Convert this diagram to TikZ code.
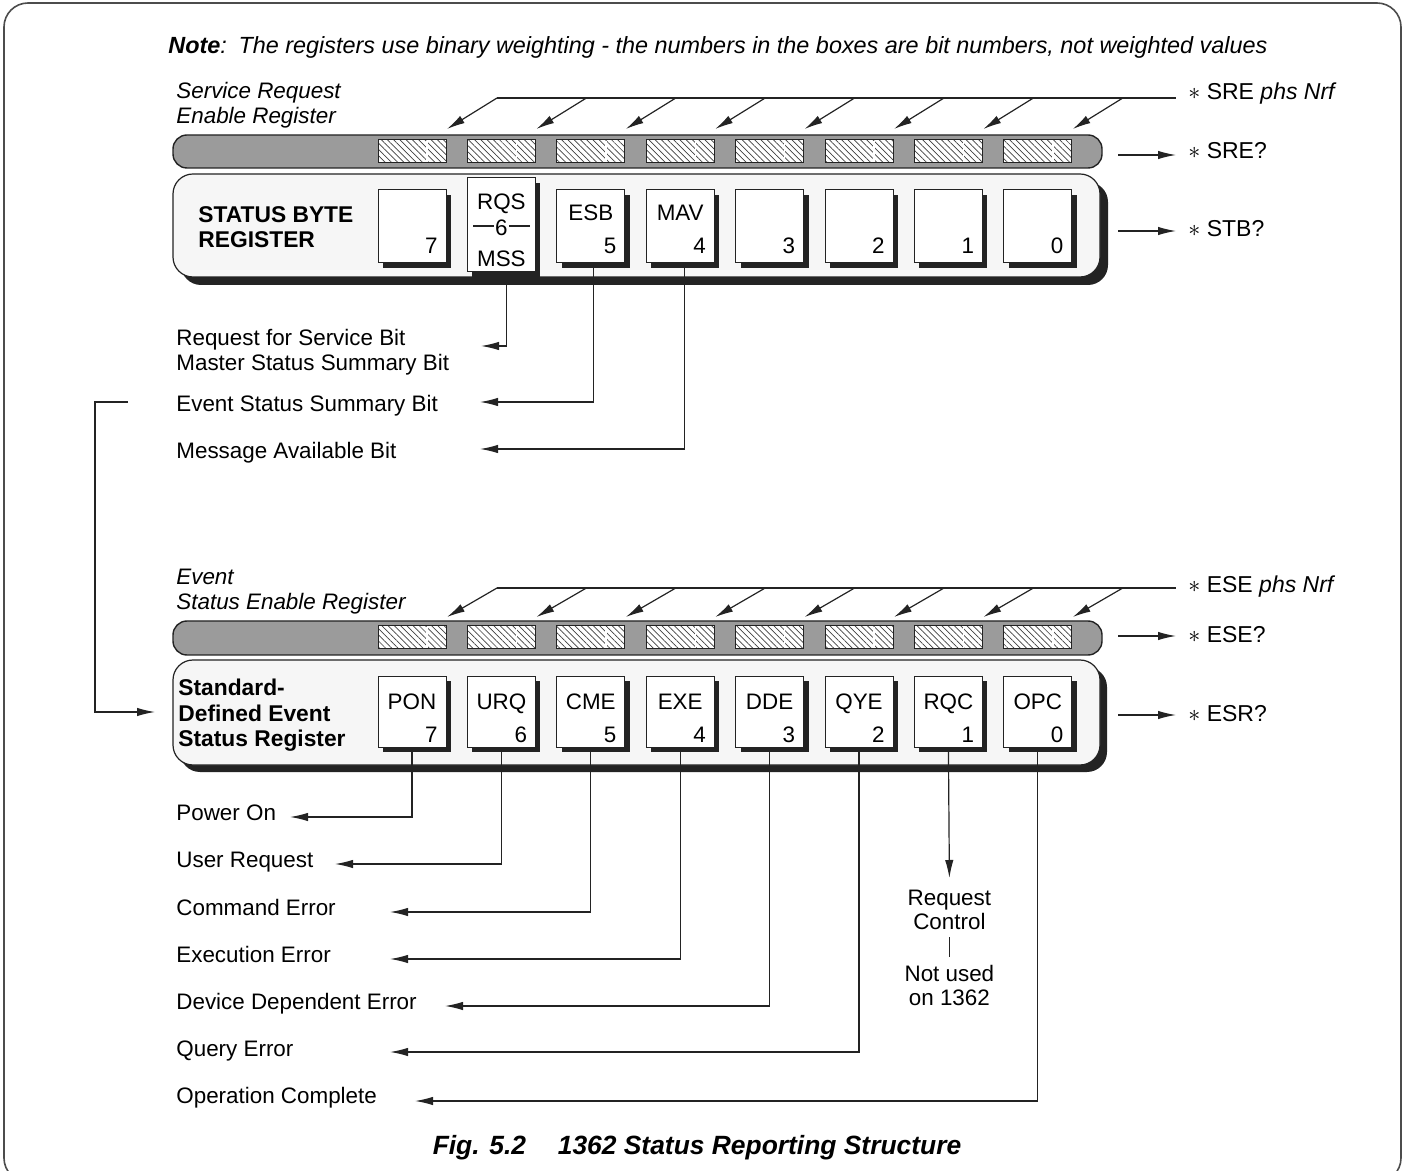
\documentclass[tikz,border=0pt]{standalone}
\usepackage{fontspec}
\setmainfont{Liberation Sans}
\usetikzlibrary{arrows.meta,patterns.meta,shadows,calc}
\definecolor{bargray}{RGB}{155,155,155}
\definecolor{boxgray}{RGB}{246,246,246}
\definecolor{ink}{RGB}{35,35,35}
\tikzset{
  frame/.style={draw=black!70, line width=0.8pt, rounded corners=12pt},
  regbar/.style={fill=bargray, draw=ink, line width=0.7pt, rounded corners=7pt},
  regbox/.style={fill=boxgray, draw=ink, line width=0.6pt, rounded corners=10pt},
  regshadow/.style={fill=ink, rounded corners=10pt},
  bitbox/.style={draw=ink, fill=white, line width=0.5pt, minimum width=34pt, inner sep=0pt,
    general shadow={fill=ink, shadow xshift=2.5pt, shadow yshift=-2.5pt}},
  hatchbox/.style={draw=ink, line width=0.5pt, preaction={fill=white},
    pattern={Lines[angle=-45,distance=2.2pt,line width=0.35pt]}, pattern color=black!75},
  conn/.style={draw=ink, line width=0.6pt},
  arr/.style={conn, -{Latex[length=9pt,width=4.2pt]}},
  txt/.style={anchor=base west, inner sep=0pt},
  ctxt/.style={anchor=base, inner sep=0pt},
  numtxt/.style={anchor=base east, inner sep=0pt},
  boldlbl/.style={txt, font=\fontsize{11.4}{13}\selectfont\bfseries},
  rlbl/.style={txt, font=\fontsize{11.5}{13}\selectfont},
}
\begin{document}
\begin{tikzpicture}[x=0.5pt,y=-0.5pt, font=\fontsize{11.2}{13}\selectfont]
\useasboundingbox (0,0) rectangle (1404,1171);
% outer frame
\draw[frame] (4,3) rectangle (1401,1182);

% note
\node[txt, font=\fontsize{11.7}{13}\selectfont] (note) at (168,54) {\textbf{\textit{Note}}\textit{:\enspace The registers use binary weighting - the numbers in the boxes are bit numbers, not weighted values}};

% ---------------- Service request enable register ----------------
\node[txt] (srel1) at (176,99) {\textit{Service Request}};
\node[txt] (srel2) at (176,124) {\textit{Enable Register}};
\draw[regbar] (173,135) rectangle (1102,168);
\coordinate (sreTopL) at (497,98);
\coordinate (sreTopR) at (1176,98);
\draw[conn] (sreTopL) -- (sreTopR);
\foreach \i in {0,...,7}{
  \draw[hatchbox] (378+89.4*\i,140) rectangle (446+89.4*\i,163);
  \draw[white, line width=0.7pt] (427+89.4*\i,141) -- (427+89.4*\i,162);
  \draw[arr] (497+89.4*\i,98) -- (447+89.4*\i,129);
}
\node[rlbl] (srecmd) at (1188,100) {$\ast$ SRE \textit{phs Nrf}};
\node[rlbl] (srequ) at (1188,159) {$\ast$ SRE?};
\coordinate (sreA) at (1118,155); \coordinate (sreB) at (1176,155);
\draw[arr] (sreA) -- (sreB);

% ---------------- Status byte register ----------------
\fill[regshadow] (181,182) rectangle (1108,285);
\draw[regbox] (173,174) rectangle (1100,277);
\node[boldlbl] (sbl1) at (198,223) {STATUS BYTE};
\node[boldlbl] (sbl2) at (198,248) {REGISTER};
\foreach \i/\b/\lab in {0/7/,2/5/ESB,3/4/MAV,4/3/,5/2/,6/1/,7/0/}{
  \node[bitbox, minimum height=36.5pt] (s\b) at (412+89.4*\i,226.5) {};
  \node[numtxt] (s\b n) at (438+89.4*\i,254) {\b};
  \node[ctxt] (s\b l) at (412+89.4*\i,221) {\lab};
}
\node[bitbox, minimum height=47pt] (s6) at (501.4,225) {};
\node[ctxt] (s6l) at (501.4,210) {RQS};
\node[ctxt] (s6n) at (501.4,236) {6};
\node[ctxt] (s6b) at (501.4,267) {MSS};
\draw[conn] (473,226) -- (494,226);
\draw[conn] (509,226) -- (530,226);
\node[rlbl] (stbq) at (1188,237) {$\ast$ STB?};
\coordinate (stbA) at (1118,231); \coordinate (stbB) at (1176,231);
\draw[arr] (stbA) -- (stbB);

% status byte bit descriptions
\node[txt] (rqs1) at (176,346) {Request for Service Bit};
\node[txt] (rqs2) at (176,371) {Master Status Summary Bit};
\node[txt] (esbt) at (176,412) {Event Status Summary Bit};
\node[txt] (mavt) at (176,459) {Message Available Bit};
\coordinate (t6) at (481,346);
\coordinate (t5) at (480,402);
\coordinate (t4) at (480,449);
\draw[arr] ([xshift=2.5pt]s6.south) |- (t6);
\draw[arr] ([xshift=1.5pt]s5.south) |- (t5);
\draw[arr] ([xshift=2pt]s4.south) |- (t4);

% link from ESB to event status register
\coordinate (esbL) at (128,402);
\coordinate (esrL) at (155,712);
\draw[arr] (esbL) -- (95,402) |- (esrL);

% ---------------- Event status enable register ----------------
\node[txt] (esel1) at (176,585) {\textit{Event}};
\node[txt] (esel2) at (176,610) {\textit{Status Enable Register}};
\draw[regbar] (173,621) rectangle (1102,655);
\coordinate (eseTopL) at (497,588);
\coordinate (eseTopR) at (1176,588);
\draw[conn] (eseTopL) -- (eseTopR);
\foreach \i in {0,...,7}{
  \draw[hatchbox] (378+89.4*\i,626) rectangle (446+89.4*\i,649);
  \draw[white, line width=0.7pt] (427+89.4*\i,627) -- (427+89.4*\i,648);
  \draw[arr] (497+89.4*\i,588) -- (447+89.4*\i,617);
}
\node[rlbl] (esecmd) at (1188,593) {$\ast$ ESE \textit{phs Nrf}};
\node[rlbl] (esequ) at (1188,642) {$\ast$ ESE?};
\coordinate (eseA) at (1118,636); \coordinate (eseB) at (1176,636);
\draw[arr] (eseA) -- (eseB);

% ---------------- Standard event status register ----------------
\fill[regshadow] (180,667) rectangle (1107,772);
\draw[regbox] (173,660) rectangle (1100,765);
\node[boldlbl] (esr1) at (178,696) {Standard-};
\node[boldlbl] (esr2) at (178,721) {Defined Event};
\node[boldlbl] (esr3) at (178,746) {Status Register};
\foreach \i/\b/\lab in {0/7/PON,1/6/URQ,2/5/CME,3/4/EXE,4/3/DDE,5/2/QYE,6/1/RQC,7/0/OPC}{
  \node[bitbox, minimum height=35.5pt] (e\b) at (412+89.4*\i,711.5) {};
  \node[numtxt] (e\b n) at (438+89.4*\i,742) {\b};
  \node[ctxt] (e\b l) at (412+89.4*\i,709) {\lab};
}
\node[rlbl] (esrq) at (1188,721) {$\ast$ ESR?};
\coordinate (esrA) at (1118,715); \coordinate (esrB) at (1176,715);
\draw[arr] (esrA) -- (esrB);

% event bit descriptions
\node[txt] (pon) at (176,820) {Power On};
\node[txt] (urq) at (176,867) {User Request};
\node[txt] (cme) at (176,915) {Command Error};
\node[txt] (exe) at (176,962) {Execution Error};
\node[txt] (dde) at (176,1009) {Device Dependent Error};
\node[txt] (qye) at (176,1056) {Query Error};
\node[txt] (opc) at (176,1103) {Operation Complete};
\coordinate (u7) at (290,817);
\coordinate (u6) at (335,864);
\coordinate (u5) at (390,912);
\coordinate (u4) at (390,959);
\coordinate (u3) at (445,1006);
\coordinate (u2) at (390,1052);
\coordinate (u0) at (415,1101);
\draw[arr] (e7.south) |- (u7);
\draw[arr] (e6.south) |- (u6);
\draw[arr] (e5.south) |- (u5);
\draw[arr] (e4.south) |- (u4);
\draw[arr] (e3.south) |- (u3);
\draw[arr] (e2.south) |- (u2);
\draw[arr] (e0.south) |- (u0);
\coordinate (u1) at (949.4,878);
\draw[arr] (e1.south) -- (u1);
\node[align=center, inner sep=0pt, font=\fontsize{11.2}{12}\selectfont] (rc) at (949.4,910) {Request\\Control};
\node[align=center, inner sep=0pt, font=\fontsize{11.2}{12}\selectfont] (nu) at (949.4,985) {Not used\\on 1362};
\coordinate (rcA) at (949.4,937); \coordinate (rcB) at (949.4,957);
\draw[conn] (rcA) -- (rcB);

% caption
\node[ctxt, font=\fontsize{13.2}{15}\selectfont\bfseries\itshape] (cap) at (697,1154) {Fig. 5.2\hspace{1.2em}1362 Status Reporting Structure};
\end{tikzpicture}
\end{document}
